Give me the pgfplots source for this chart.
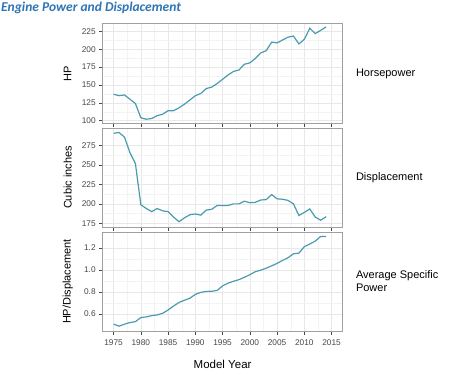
\documentclass[border=0pt]{standalone}
\usepackage{pgfplots}
\pgfplotsset{compat=1.18}
\usepackage{fontspec}
\setmainfont{Liberation Sans}
\newfontfamily\titlefont{Carlito}
\definecolor{linec}{RGB}{74,155,175}
\definecolor{titlec}{RGB}{46,117,182}
\definecolor{gridc}{RGB}{232,232,232}
\definecolor{minorc}{RGB}{243,243,243}
\definecolor{framec}{RGB}{160,160,160}
\definecolor{tickc}{RGB}{70,70,70}
\pgfplotsset{
  panel/.style={
    scale only axis, width=239.8pt, height=100pt,
    xmin=1973, xmax=2017,
    xtick={1975,1980,...,2015},
    minor x tick num=1, minor y tick num=1,
    grid=both,
    major grid style={gridc, line width=0.5pt},
    minor grid style={minorc, line width=0.4pt},
    axis line style={framec, line width=0.7pt},
    tick style={tickc, line width=0.5pt},
    tick align=outside, major tick length=3.5pt, minor tick length=0pt,
    xtick pos=bottom, ytick pos=left,
    ticklabel style={font=\fontsize{8.3}{9}\selectfont, text=tickc},
    xticklabel style={yshift=-1.5pt},
    /pgf/number format/assume math mode=true,
    /pgf/number format/set thousands separator={},
    y label style={at={(axis description cs:0,0.5)}, anchor=center, yshift=35pt, font=\fontsize{11}{13}\selectfont},
    cycle list={{linec, mark=none}},
    every axis plot/.append style={line width=1.2pt},
  }
}
\begin{document}
\begin{tikzpicture}
\path[use as bounding box] (0,0) rectangle (450pt,-375pt);
\node[anchor=base west, inner sep=0pt, text=titlec] at (1pt,-11pt) {\titlefont\fontsize{13.5}{15}\selectfont\bfseries\itshape Engine Power and Displacement};

\begin{axis}[panel, name=a1, at={(102.7pt,-23.3pt)}, anchor=north west,
  height=100.5pt, ymin=95.6, ymax=236.4, ytick={100,125,...,225},
  xticklabels={}, ylabel={HP}]
\addplot coordinates {
(1975,137) (1976,135) (1977,136) (1978,130) (1979,124) (1980,104) (1981,102) (1982,103)
(1983,107) (1984,109) (1985,114) (1986,114) (1987,118) (1988,123) (1989,129) (1990,135)
(1991,138) (1992,145) (1993,147) (1994,152) (1995,158) (1996,164) (1997,169) (1998,171)
(1999,179) (2000,181) (2001,187) (2002,195) (2003,198) (2004,210) (2005,209) (2006,213)
(2007,217) (2008,218.5) (2009,207.5) (2010,214) (2011,229.5) (2012,222) (2013,226.5) (2014,231.5)};
\end{axis}
\node[anchor=west, xshift=10pt, font=\fontsize{11}{13}\selectfont] at (a1.east) {Horsepower};

\begin{axis}[panel, name=a2, at={(102.7pt,-128pt)}, anchor=north west,
  height=99pt, ymin=170.2, ymax=297.8, ytick={175,200,...,275},
  xticklabels={}, ylabel={Cubic inches}]
\addplot coordinates {
(1975,291) (1976,292) (1977,286) (1978,266) (1979,252) (1980,199) (1981,194) (1982,190)
(1983,194) (1984,191) (1985,190) (1986,183) (1987,177) (1988,182) (1989,186) (1990,187)
(1991,185.5) (1992,192) (1993,193) (1994,198) (1995,198) (1996,198) (1997,200) (1998,200)
(1999,203.5) (2000,201.5) (2001,202) (2002,205) (2003,205.5) (2004,212) (2005,206.5) (2006,206)
(2007,204.5) (2008,200) (2009,185) (2010,189) (2011,193.5) (2012,183) (2013,179) (2014,183.5)};
\end{axis}
\node[anchor=west, xshift=10pt, font=\fontsize{11}{13}\selectfont] at (a2.east) {Displacement};

\begin{axis}[panel, name=a3, at={(102.7pt,-232pt)}, anchor=north west,
  height=99pt, ymin=0.445, ymax=1.345, ytick={0.6,0.8,1.0,1.2},
  yticklabel style={/pgf/number format/.cd, fixed, fixed zerofill, precision=1},
  ylabel={HP/Displacement},
  xlabel={Model Year},
  x label style={at={(axis description cs:0.5,0)}, anchor=center, yshift=-33pt, font=\fontsize{11.5}{13}\selectfont}]
\addplot coordinates {
(1975,0.508) (1976,0.489) (1977,0.507) (1978,0.522) (1979,0.530) (1980,0.567) (1981,0.573) (1982,0.585)
(1983,0.591) (1984,0.606) (1985,0.636) (1986,0.672) (1987,0.704) (1988,0.725) (1989,0.743) (1990,0.778)
(1991,0.796) (1992,0.805) (1993,0.806) (1994,0.814) (1995,0.855) (1996,0.880) (1997,0.897) (1998,0.912)
(1999,0.933) (2000,0.957) (2001,0.984) (2002,0.998) (2003,1.016) (2004,1.037) (2005,1.060) (2006,1.087)
(2007,1.111) (2008,1.147) (2009,1.153) (2010,1.212) (2011,1.236) (2012,1.262) (2013,1.305) (2014,1.305)};
\end{axis}
\node[anchor=west, xshift=10pt, align=left, font=\fontsize{11}{13}\selectfont] at (a3.east) {Average Specific\\Power};
\end{tikzpicture}
\end{document}
